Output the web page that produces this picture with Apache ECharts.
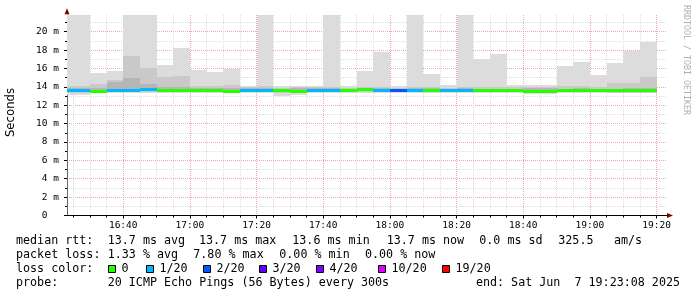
<!DOCTYPE html>
<html><head><meta charset="utf-8">
<script src="https://cdn.jsdelivr.net/npm/echarts@6/dist/echarts.min.js"></script>
<style>html,body{margin:0;padding:0;background:#fff}#c{width:697px;height:297px}</style>
</head><body><div id="c"></div><script>
// ---------- data ----------
const slotStart = ['16:20','16:25','16:30','16:35','16:40','16:45','16:50','16:55','17:00','17:05','17:10','17:15','17:20','17:25','17:30','17:35','17:40','17:45','17:50','17:55','18:00','18:05','18:10','18:15','18:20','18:25','18:30','18:35','18:40','18:45','18:50','18:55','19:00','19:05','19:10','19:15'];
// smoke: outer band (min..max ping), middle band, core band (ms)
const smokeLo = [13.15,13.15,13.3,13.3,13.3,13.3,13.3,13.3,13.3,13.3,13.3,13.3,13.3,13.05,13.1,13.3,13.3,13.3,13.3,13.3,13.3,13.3,13.3,13.3,13.3,13.3,13.3,13.3,13.25,13.25,13.3,13.3,13.3,13.3,13.3,13.3];
const smokeHi = [22,22,15.54,15.72,22,22,16.38,18.19,15.83,15.61,15.94,14.09,22,14.09,14.09,14.1,22,14.09,15.76,17.83,14.09,22,15.4,14.15,22,17.0,17.57,14.17,14.17,14.15,16.27,16.7,15.25,16.56,17.9,18.88];
const midLo = [13.3,13.3,13.4,13.4,13.4,13.4,13.4,13.4,13.4,13.4,13.4,13.4,13.4,13.35,13.35,13.4,13.4,13.4,13.4,13.4,13.4,13.4,13.4,13.4,13.4,13.4,13.4,13.4,13.4,13.4,13.4,13.4,13.4,13.3,13.3,13.3];
const midHi = [14.05,14.05,14.3,14.74,17.36,16.05,15.1,15.2,14.1,14.1,14.2,14.0,14.1,13.9,13.95,14.0,14.0,13.9,14.0,14.0,13.9,14.0,13.95,13.9,14.0,13.95,14.0,13.95,14.0,14.0,14.1,14.1,14.0,14.45,14.38,15.04];
const coreLo = [13.5,13.5,13.5,13.5,13.5,13.5,13.5,13.5,13.5,13.5,13.5,13.5,13.5,13.45,13.45,13.5,13.5,13.5,13.5,13.5,13.5,13.5,13.5,13.5,13.5,13.5,13.5,13.5,13.45,13.45,13.5,13.5,13.5,13.45,13.45,13.45];
const coreHi = [13.85,13.85,13.9,14.55,15.0,14.3,14.0,14.0,13.85,13.85,13.9,13.9,13.85,13.8,13.85,13.85,13.85,13.8,13.85,13.85,13.8,13.9,13.85,13.8,13.85,13.8,13.8,13.8,13.85,13.85,13.8,13.85,13.8,13.8,13.85,13.9];
const median = [13.66,13.66,13.6,13.66,13.68,13.72,13.64,13.64,13.64,13.64,13.6,13.66,13.66,13.62,13.55,13.66,13.66,13.64,13.72,13.66,13.66,13.66,13.7,13.66,13.66,13.64,13.64,13.64,13.58,13.58,13.64,13.62,13.66,13.64,13.64,13.64];
const lossPct = [3.2,3.2,0,2.5,4.1,3.0,0,0,0,0,0,2.8,3.5,0,0,2.2,3.0,0,0,4.0,7.8,3.1,0,2.6,3.3,0,0,0,0,0,0,0,0,0,0,0];
// loss colour legend
const lossLabels = ['0','1/20','2/20','3/20','4/20','10/20','19/20'];
const lossLimits = [0,5,10,15,20,50,95];
const lossColors = ['#26ff00','#00b8ff','#0059ff','#5e00ff','#7e00ff','#dd00ff','#ff0000'];
// axes
const xTickLabels = ['16:40','17:00','17:20','17:40','18:00','18:20','18:40','19:00','19:20'];
const yTicks = [0,2,4,6,8,10,12,14,16,18,20];
const yMinorTicks = [1,3,5,7,9,11,13,15,17,19,21];
const startTime = '16:23:08', spanMin = 180, stepMin = 5, yMax = 21.82;
// legend text rows
const rttRow = [['median rtt:',16],['13.7 ms avg',107.7],['13.7 ms max',199],['13.6 ms min',292.3],['13.7 ms now',386.7],['0.0 ms sd',479.3],['325.5',558.3],['am/s',614]];
const lossRow = [['packet loss:',16],['1.33 % avg',107.7],['7.80 % max',193.3],['0.00 % min',279.3],['0.00 % now',365]];
const probeRow = [['probe:',16],['20 ICMP Echo Pings (56 Bytes) every 300s',107.7]];
const endText = 'end: Sat Jun  7 19:23:08 2025';

// ---------- build ----------
function toMin(s){const p=s.split(':');return (+p[0])*60+(+p[1])+(p[2]?(+p[2])/60:0);}
function fmt(m){const h=Math.floor(m/60), mm=Math.round(m-h*60);return String(h).padStart(2,'0')+':'+String(mm).padStart(2,'0');}
const T0 = toMin(startTime), T1 = T0 + spanMin;
const xMajor = xTickLabels.map(toMin);
const xMinor = [];
for (let m = Math.ceil(T0/stepMin)*stepMin; m <= T1; m += stepMin) if (xMajor.indexOf(m) < 0) xMinor.push(m);
function lossColor(p){for(let i=0;i<lossLimits.length;i++){if(p<=lossLimits[i])return lossColors[i];}return lossColors[lossColors.length-1];}

const rows = slotStart.map((s,i)=>{const a=toMin(s);return [a,a+stepMin,smokeLo[i],smokeHi[i],midLo[i],midHi[i],coreLo[i],coreHi[i],median[i],lossPct[i]];});

function clipRect(params, x0, y0, x1, y1){
  const cs = params.coordSys;
  return echarts.graphic.clipRectByRect(
    {x:Math.round(x0), y:Math.round(y0), width:Math.round(x1)-Math.round(x0), height:Math.round(y1)-Math.round(y0)},
    {x:cs.x, y:cs.y, width:cs.width, height:cs.height});
}
function smokeItem(params, api){
  const s=api.value(0), e=api.value(1);
  const bands=[[2,3,'#dcdcdc'],[4,5,'#c9c9c9'],[6,7,'#b5b5b5']];
  const ch=[];
  bands.forEach(b=>{
    const p0=api.coord([s,api.value(b[1])]), p1=api.coord([e,api.value(b[0])]);
    const r=clipRect(params,p0[0],p0[1],p1[0],p1[1]);
    if(r) ch.push({type:'rect',shape:r,style:{fill:b[2]}});
  });
  return {type:'group',children:ch};
}
function medianItem(params, api){
  const s=api.value(0), e=api.value(1), m=api.value(8);
  const p0=api.coord([s,m]), p1=api.coord([e,m]);
  const y=Math.round(p0[1]);
  const r=clipRect(params,p0[0],y-1.5,p1[0],y+1.5);
  if(!r) return null;
  return {type:'rect',shape:r,style:{fill:lossColor(api.value(9))}};
}

const MONO='DejaVu Sans Mono';
const FS=11.7;
const graphics=[];
function addRow(row,y){row.forEach(r=>graphics.push({type:'text',x:r[1],y:y,style:{text:r[0],font:FS+'px "'+MONO+'"',fill:'#000',align:'left',verticalAlign:'middle'}}));}
addRow(rttRow,241); addRow(lossRow,255); addRow(probeRow,283);
graphics.push({type:'text',x:16,y:269,style:{text:'loss color:',font:FS+'px "'+MONO+'"',fill:'#000',verticalAlign:'middle'}});
const sqX=[107.7,146,202.7,259.3,316,377.7,441.7];
lossLabels.forEach((l,i)=>{
  graphics.push({type:'rect',shape:{x:Math.round(sqX[i])+0.5,y:265.5,width:7,height:7},style:{fill:lossColors[i],stroke:'#000',lineWidth:1}});
  graphics.push({type:'text',x:Math.round(sqX[i])+13.5,y:269,style:{text:l,font:FS+'px "'+MONO+'"',fill:'#000',verticalAlign:'middle'}});
});
graphics.push({type:'text',x:680,y:283,style:{text:endText,font:FS+'px "'+MONO+'"',fill:'#000',align:'right',verticalAlign:'middle'}});
graphics.push({type:'text',x:10.5,y:112.5,rotation:Math.PI/2,style:{text:'Seconds',font:FS+'px "DejaVu Sans"',fill:'#000',align:'center',verticalAlign:'middle'}});
graphics.push({type:'text',x:686,y:60,rotation:-Math.PI/2,style:{text:'RRDTOOL / TOBI OETIKER',font:'8.3px "'+MONO+'"',fill:'#b0b0b0',align:'center',verticalAlign:'middle'}});

const gridLine = c => ({show:true,lineStyle:{color:c,type:[1,1],width:1}});
const chart = echarts.init(document.getElementById('c'),null,{renderer:'canvas'});
chart.setOption({
  animation:false,
  backgroundColor:'#ffffff',
  grid:{left:67,top:15,width:600,height:200.5,containLabel:false,outerBoundsMode:'none'},
  xAxis:[
    {type:'value',min:T0,max:T1,position:'bottom',
     axisLine:{show:true,onZero:false,lineStyle:{color:'#000',width:1}},
     axisTick:{show:true,customValues:xMajor,length:3,lineStyle:{color:'#000'}},
     axisLabel:{show:true,customValues:xMajor,formatter:v=>fmt(v),fontFamily:MONO,fontSize:9.5,color:'#000',margin:5},
     splitLine:gridLine('#efa8a8')},
    {type:'value',min:T0,max:T1,position:'bottom',
     axisLine:{show:true,onZero:false,symbol:['none','triangle'],symbolSize:[5,6],symbolOffset:[0,3],lineStyle:{color:'#7f0000',opacity:0}},
     axisTick:{show:true,customValues:xMinor,length:2,lineStyle:{color:'#000'}},
     axisLabel:{show:false},
     splitLine:gridLine('#dedede')}
  ],
  yAxis:[
    {type:'value',min:0,max:yMax,position:'left',
     axisLine:{show:true,onZero:false,lineStyle:{color:'#666',width:1}},
     axisTick:{show:true,customValues:yTicks,length:3,lineStyle:{color:'#000'}},
     axisLabel:{show:true,customValues:yTicks,formatter:v=>v===0?'0  ':v+' m',fontFamily:MONO,fontSize:9.5,color:'#000',margin:8},
     splitLine:gridLine('#efa8a8')},
    {type:'value',min:0,max:yMax,position:'left',
     axisLine:{show:true,onZero:false,symbol:['none','triangle'],symbolSize:[5,6],symbolOffset:[0,3.7],lineStyle:{color:'#7f0000',opacity:0}},
     axisTick:{show:true,customValues:yMinorTicks,length:2,lineStyle:{color:'#000'}},
     axisLabel:{show:false},
     splitLine:gridLine('#dedede')}
  ],
  series:[
    {type:'custom',name:'smoke',xAxisIndex:0,yAxisIndex:0,renderItem:smokeItem,data:rows,encode:{x:[0,1],y:[2,3]},z:2,silent:true},
    {type:'custom',name:'median',xAxisIndex:0,yAxisIndex:0,renderItem:medianItem,data:rows,encode:{x:[0,1],y:8},z:3,silent:true}
  ],
  graphic:graphics
});
</script></body></html>
